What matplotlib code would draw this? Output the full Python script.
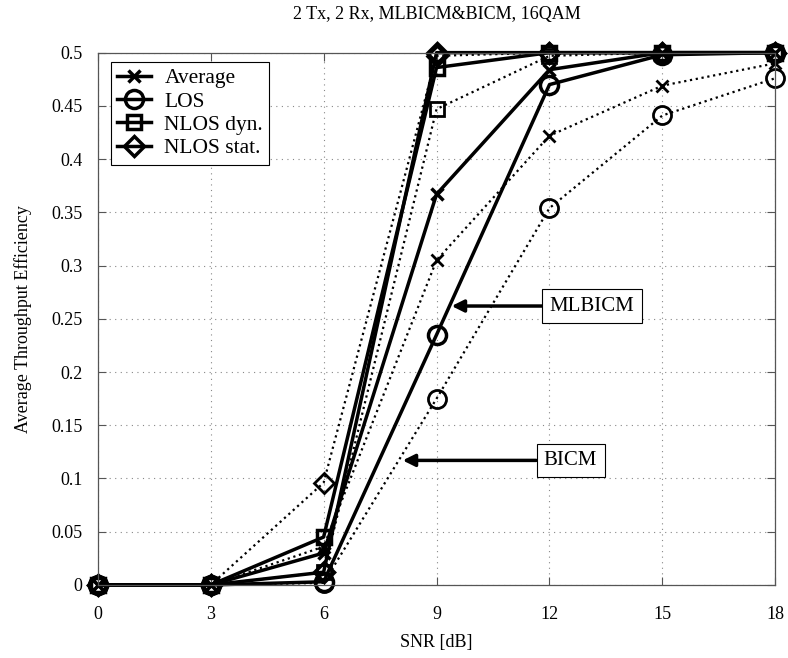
import numpy as np
import matplotlib
matplotlib.use("Agg")
import matplotlib.pyplot as plt

plt.rcParams['font.family'] = ['Liberation Serif', 'DejaVu Serif']

snr = [0, 3, 6, 9, 12, 15, 18]

# MLBICM (solid)
ml_avg = [0, 0, 0.030, 0.367, 0.484, 0.500, 0.500]
ml_los = [0, 0, 0.003, 0.235, 0.470, 0.498, 0.500]
ml_dyn = [0, 0, 0.045, 0.486, 0.500, 0.500, 0.500]
ml_stat = [0, 0, 0.012, 0.500, 0.500, 0.500, 0.500]

# BICM (dotted)
bi_avg = [0, 0, 0.036, 0.305, 0.422, 0.469, 0.490]
bi_los = [0, 0, 0.002, 0.175, 0.354, 0.441, 0.476]
bi_dyn = [0, 0, 0.012, 0.447, 0.497, 0.500, 0.500]
bi_stat = [0, 0, 0.096, 0.497, 0.500, 0.500, 0.500]

labels = ['Average', 'LOS', 'NLOS dyn.', 'NLOS stat.']
markers = ['x', 'o', 's', 'D']
msizes = [8, 13, 10, 10]

fig = plt.figure(figsize=(7.88, 6.58), dpi=100)
ax = fig.add_axes([0.124, 0.111, 0.860, 0.809])

for ys, m, ms in zip([bi_avg, bi_los, bi_dyn, bi_stat], markers, msizes):
    ax.plot(snr, ys, color='k', linestyle=':', linewidth=1.6, marker=m,
            markersize=ms, markerfacecolor='none', markeredgewidth=2,
            clip_on=False)

for ys, m, ms, lab in zip([ml_avg, ml_los, ml_dyn, ml_stat], markers, msizes, labels):
    ax.plot(snr, ys, color='k', linestyle='-', linewidth=2.5, marker=m,
            markersize=ms, markerfacecolor='none', markeredgewidth=2.5,
            label=lab, clip_on=False)

ax.set_xlim(0, 18)
ax.set_ylim(0, 0.5)
ax.set_xticks(snr)
ax.set_yticks(np.arange(0, 0.501, 0.05))
ax.set_yticklabels(['0', '0.05', '0.1', '0.15', '0.2', '0.25', '0.3', '0.35',
                    '0.4', '0.45', '0.5'])
ax.tick_params(direction='in', top=True, right=True, labelsize=13, length=6,
               color='#555555')
ax.tick_params(axis='x', pad=15)
ax.tick_params(axis='y', pad=11)
ax.grid(True, linestyle=(0, (1, 4)), color='#888888', linewidth=0.8)
for s in ax.spines.values():
    s.set_linewidth(0.9)
    s.set_color('#555555')

ax.set_xlabel('SNR [dB]', fontsize=13, labelpad=8)
ax.set_ylabel('Average Throughput Efficiency', fontsize=13, labelpad=14)
ax.set_title('2 Tx, 2 Rx, MLBICM&BICM, 16QAM', fontsize=13, pad=24)

leg = ax.legend(loc='upper left', fontsize=15.5, fancybox=False, framealpha=1,
                edgecolor='k', handlelength=1.6, handletextpad=0.6,
                borderpad=0.3, labelspacing=0.15, borderaxespad=0,
                bbox_to_anchor=(0.019, 0.983))
leg.get_frame().set_linewidth(0.8)

box = dict(boxstyle='square,pad=0.35', fc='white', ec='k', lw=0.8)
ax.annotate('MLBICM', xy=(9.4, 0.262), xytext=(12.0, 0.262), fontsize=15,
            va='center', ha='left', bbox=box,
            arrowprops=dict(arrowstyle='-|>', color='k', lw=2.5,
                            mutation_scale=18, shrinkA=0, shrinkB=0))
ax.annotate('BICM', xy=(8.1, 0.117), xytext=(11.85, 0.117), fontsize=15,
            va='center', ha='left', bbox=box,
            arrowprops=dict(arrowstyle='-|>', color='k', lw=2.5,
                            mutation_scale=18, shrinkA=0, shrinkB=0))

fig.savefig('out.png', dpi=100)
